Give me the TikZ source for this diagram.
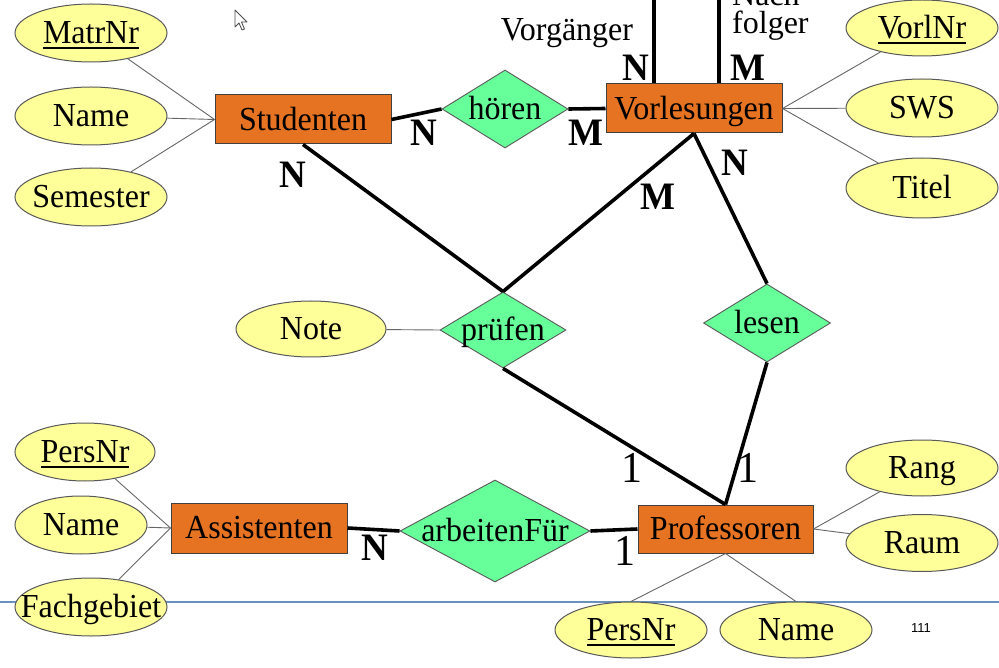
\documentclass[tikz,border=0pt]{standalone}
\usepackage{fontspec}
\usepackage{graphicx}
\setmainfont{Liberation Serif}
\setsansfont{Liberation Sans}
\usetikzlibrary{shapes.geometric}

\definecolor{entorange}{RGB}{229,115,34}
\definecolor{relgreen}{RGB}{102,255,153}
\definecolor{attryellow}{RGB}{255,255,153}
\definecolor{rulerblue}{RGB}{105,145,192}

% text centred on its cap height, taking no room in the node
\newcommand\lbl[1]{\makebox[0pt]{\raisebox{-0.34em}[0pt][0pt]{\scalebox{1}[1.05]{#1}}}}
% key attribute: underlined with a firm rule
\newcommand\keyattr[1]{\setbox0\hbox{#1}\rlap{\raisebox{-5pt}{\rule{\wd0}{2.2pt}}}\box0}

\tikzset{
  every node/.style={font=\fontsize{32}{35}\selectfont, inner sep=0pt},
  entity/.style={rectangle, draw=black!75, line width=1pt, fill=entorange,
    minimum width=176pt, minimum height=49pt},
  relship/.style={diamond, draw=black!65, line width=0.9pt, fill=relgreen,
    minimum width=126pt, minimum height=77pt},
  attr/.style={ellipse, draw=black!65, line width=1pt, fill=attryellow,
    minimum width=152pt, minimum height=58pt},
  card/.style={font=\fontsize{37}{40}\selectfont\bfseries},
  one/.style={font=\fontsize{42}{44}\selectfont},
  rel/.style={line width=3.6pt, black},
  attrline/.style={line width=0.9pt, black!60},
}

\begin{document}
\begin{tikzpicture}[x=1pt, y=-1pt]
\useasboundingbox (0,0) rectangle (999,668);
\clip (0,0) rectangle (999,668);
\fill[white] (0,0) rectangle (999,668);

% slide rule across the bottom
\draw[rulerblue, line width=1.4pt] (0,602) -- (999,602);

% entities
\node[entity] (stud) at (303,119.5) {\lbl{Studenten}};
\node[entity] (vorl) at (694,108.5) {\lbl{Vorlesungen}};
\node[entity, minimum height=50pt] (asst) at (259,528) {\lbl{Assistenten}};
\node[entity, minimum width=175pt, minimum height=48pt] (prof) at (725.5,529) {\lbl{Professoren}};

% relationships
\node[relship, minimum height=78pt] (hoeren) at (505,109) {\lbl{hören}};
\node[relship, minimum height=76pt] (pruef) at (503,330) {\lbl{prüfen}};
\node[relship, minimum width=127pt, minimum height=78pt] (lesen) at (767,323) {\lbl{lesen}};
\node[relship, minimum width=190pt, minimum height=102pt] (arbf) at (495,531) {\lbl{arbeitenFür}};

% attributes
\node[attr] (matr) at (91,33) {\lbl{\keyattr{MatrNr}}};
\node[attr] (sname) at (91,116) {\lbl{Name}};
\node[attr] (sem) at (91,197) {\lbl{Semester}};
\node[attr, minimum height=56pt] (vnr) at (922,28) {\lbl{\keyattr{VorlNr}}};
\node[attr] (sws) at (922,108) {\lbl{SWS}};
\node[attr, minimum height=60pt] (titel) at (922,188) {\lbl{Titel}};
\node[attr, minimum width=150pt, minimum height=56pt] (note) at (311,329) {\lbl{Note}};
\node[attr, minimum width=140pt] (apers) at (85,452) {\lbl{\keyattr{PersNr}}};
\node[attr, minimum width=132pt] (aname) at (81,525) {\lbl{Name}};
\node[attr] (fach) at (91,607) {\lbl{Fachgebiet}};
\node[attr, minimum height=56pt] (rang) at (922,468) {\lbl{Rang}};
\node[attr, minimum height=57pt] (raum) at (922,543) {\lbl{Raum}};
\node[attr, minimum height=56pt] (ppers) at (631,630) {\lbl{\keyattr{PersNr}}};
\node[attr, minimum height=56pt] (pname) at (796,630) {\lbl{Name}};

% attribute links
\draw[attrline] (stud.west) -- (matr);
\draw[attrline] (stud.west) -- (sname);
\draw[attrline] (stud.west) -- (sem);
\draw[attrline] (vorl.east) -- (vnr);
\draw[attrline] (vorl.east) -- (sws);
\draw[attrline] (vorl.east) -- (titel);
\draw[attrline] (note) -- (pruef.west);
\draw[attrline] (asst.west) -- (apers);
\draw[attrline] (asst.west) -- (aname);
\draw[attrline] (asst.west) -- (fach);
\draw[attrline] (prof.east) -- (rang);
\draw[attrline] (prof.east) -- (raum);
\draw[attrline] (prof.south) -- (ppers.north);
\draw[attrline] (prof.south) -- (pname.north);

% relationship links
\draw[rel] (stud.east) -- (hoeren.west);
\draw[rel] (hoeren.east) -- (vorl.west);
\draw[rel] (stud.south) -- (pruef.north);
\draw[rel] (vorl.south) -- (pruef.north);
\draw[rel] (vorl.south) -- (lesen.north);
\draw[rel] (pruef.south) -- (prof.north);
\draw[rel] (lesen.south) -- (prof.north);
\draw[rel] (asst.east) -- (arbf.west);
\draw[rel] (arbf.east) -- (prof.west);

% recursive relationship voraussetzen, leaving the top edge
\coordinate (vg) at (654,0);
\coordinate (nf) at (719,0);
\draw[rel] (vg) -- (vg |- vorl.north);
\draw[rel] (nf) -- (nf |- vorl.north);
\node (vgtext) at (567,30) {\lbl{Vorgänger}};
\node[anchor=west, align=left, font=\fontsize{32}{28}\selectfont] (nftext) at (732,12) {Nach-\\folger};

% cardinalities
\node[card] (c1) at (424,133) {\lbl{N}};
\node[card] (c2) at (586,133) {\lbl{M}};
\node[card] (c3) at (293,175) {\lbl{N}};
\node[card] (c4) at (658,197) {\lbl{M}};
\node[card] (c5) at (735,163) {\lbl{N}};
\node[card] (c6) at (636,68) {\lbl{N}};
\node[card] (c7) at (748,68) {\lbl{M}};
\node[card] (c8) at (375,548) {\lbl{N}};
\node[one] (c9) at (632,468) {\lbl{1}};
\node[one] (c10) at (748,468) {\lbl{1}};
\node[one] (c11) at (625,551) {\lbl{1}};

% page number
\node[font=\fontsize{13}{15}\selectfont\sffamily] (page) at (921,628) {111};

% mouse pointer
\draw[black!70, fill=white, line width=0.8pt, line join=round, shift={(235,10)}]
  (0,0) -- (0,17) -- (4,13) -- (7,20) -- (9.5,19) -- (6.5,12) -- (12,12) -- cycle;
\end{tikzpicture}
\end{document}
